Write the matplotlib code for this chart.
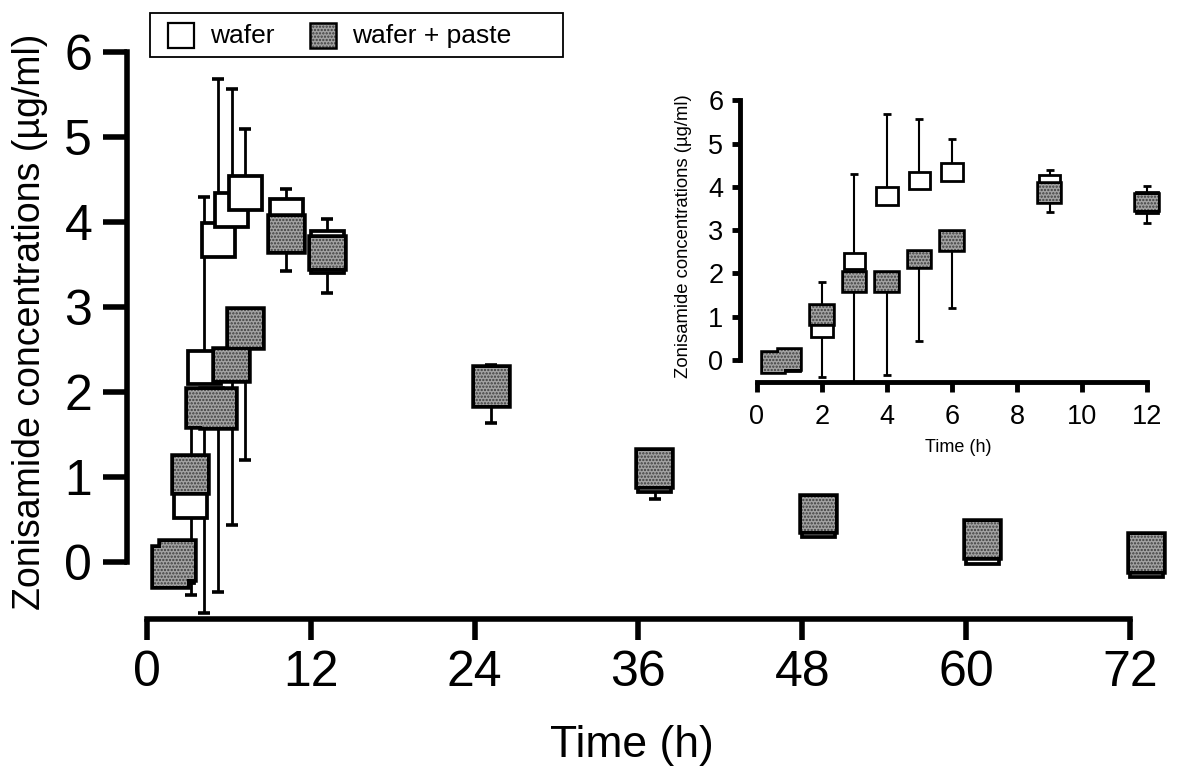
import numpy as np
import matplotlib
matplotlib.use("Agg")
import matplotlib.pyplot as plt
from matplotlib import font_manager
from matplotlib.patches import Rectangle

# ---------------- data (µg/ml) ----------------
times = [0.5, 1, 2, 3, 4, 5, 6, 9, 12, 24, 36, 48, 60, 72]

wafer_box_low  = [-0.22, -0.25, 0.52, 2.10, 3.59, 3.94, 4.14, 3.70, 3.40, 1.90, 0.82, 0.30, -0.02, -0.18]
wafer_box_high = [0.10, 0.10, 1.05, 2.48, 3.99, 4.34, 4.54, 4.27, 3.89, 2.20, 1.20, 0.60, 0.30, 0.10]
wafer_bar_top  = [None, None, 1.80, 4.29, 5.68, 5.57, 5.10, 4.39, 4.03, 2.32, None, None, None, None]

paste_box_low  = [-0.28, -0.20, 0.82, 1.60, 1.59, 2.14, 2.53, 3.66, 3.46, 1.85, 0.90, 0.37, 0.06, -0.10]
paste_box_high = [0.16, 0.24, 1.24, 2.02, 2.02, 2.49, 2.96, 4.06, 3.81, 2.28, 1.31, 0.76, 0.47, 0.32]
paste_bar_bottom = [None, None, -0.39, -0.60, -0.35, 0.44, 1.20, 3.42, 3.16, 1.64, 0.74, None, None, None]

series_labels = ["wafer", "wafer + paste"]
main_xticks = [0, 12, 24, 36, 48, 60, 72]
inset_xticks = [0, 2, 4, 6, 8, 10, 12]
yticks = [0, 1, 2, 3, 4, 5, 6]
ylabel = "Zonisamide concentrations (µg/ml)"
xlabel = "Time (h)"

# ---------------- style ----------------
names = {f.name for f in font_manager.fontManager.ttflist}
NARROW = "Liberation Sans Narrow" if "Liberation Sans Narrow" in names else None
plt.rcParams["font.family"] = ["Liberation Sans", "DejaVu Sans"]
plt.rcParams["hatch.linewidth"] = 1.1

GREY_FACE = "#a2a2a2"
SPECK = "#3c3c3c"
HATCH = "....."

W, H = 1195, 775
fig = plt.figure(figsize=(W / 100, H / 100), dpi=100)


def rect_px(left, top, right, bottom):
    return [left / W, 1 - bottom / H, (right - left) / W, (bottom - top) / H]


def draw_panel(ax, width, align, lw_box, lw_wh, cap, capw):
    t = np.array(times, float)
    xc = t + width / 2 if align == "edge" else t
    # whiskers (behind boxes)
    for i in range(len(t)):
        if wafer_bar_top[i] is not None:
            ax.vlines(xc[i], wafer_box_high[i], wafer_bar_top[i], color="k", lw=lw_wh, zorder=2)
            ax.plot([xc[i]], [wafer_bar_top[i]], marker="_", ms=cap, mew=capw, color="k", zorder=2)
        if paste_bar_bottom[i] is not None:
            ax.vlines(xc[i], paste_bar_bottom[i], paste_box_low[i], color="k", lw=lw_wh, zorder=2)
            ax.plot([xc[i]], [paste_bar_bottom[i]], marker="_", ms=cap, mew=capw, color="k", zorder=2)
    wl = np.array(wafer_box_low); wh = np.array(wafer_box_high)
    pl = np.array(paste_box_low); ph = np.array(paste_box_high)
    # wafer boxes
    for i in range(len(t)):
        ax.bar(t[i], wh[i] - wl[i], bottom=wl[i], width=width, align=align,
               facecolor="white", edgecolor="k", linewidth=lw_box, zorder=3)
    # wafer + paste boxes: outline first, then textured fill (merged look)
    ax.bar(t, ph - pl, bottom=pl, width=width, align=align, fill=False,
           edgecolor="k", linewidth=2 * lw_box, zorder=4)
    ax.bar(t, ph - pl, bottom=pl, width=width, align=align, facecolor=GREY_FACE,
           edgecolor=SPECK, hatch=HATCH, linewidth=0, zorder=4.1)


def style_axes(ax, xticks, xmax, lw, ylen, xlen, ypad, xpad, fs):
    for s in ("top", "right"):
        ax.spines[s].set_visible(False)
    for s in ("left", "bottom"):
        ax.spines[s].set_linewidth(lw)
    ax.spines["left"].set_bounds(0, 6)
    ax.spines["bottom"].set_bounds(0, xmax)
    ax.set_xticks(xticks)
    ax.set_yticks(yticks)
    ax.tick_params(axis="y", direction="out", length=ylen, width=lw, pad=ypad, labelsize=fs)
    ax.tick_params(axis="x", direction="out", length=xlen, width=lw, pad=xpad, labelsize=fs)
    ax.patch.set_alpha(0)


# ---------------- main axes ----------------
ax = fig.add_axes(rect_px(127, 14, 1171, 619))
MX0, MSC = 147, 13.65      # px of t=0, px per hour
MY0, MSY = 562, 85.0       # px of 0 µg/ml, px per unit
ax.set_xlim((127 - MX0) / MSC, (1171 - MX0) / MSC)
ax.set_ylim((MY0 - 619) / MSY, (MY0 - 14) / MSY)
draw_panel(ax, width=2.42, align="edge", lw_box=2.7, lw_wh=2.0, cap=9, capw=2.6)
style_axes(ax, main_xticks, 72, 4.0, 17, 15, 8, 7, 36)

# ---------------- inset axes ----------------
ai = fig.add_axes(rect_px(740, 92, 1163, 382))
IX0, ISC = 757, 32.5
IY0, ISY = 360, 43.3
ai.set_xlim((740 - IX0) / ISC, (1163 - IX0) / ISC)
ai.set_ylim((IY0 - 382) / ISY, (IY0 - 92) / ISY)
draw_panel(ai, width=0.65, align="center", lw_box=2.0, lw_wh=1.5, cap=5.5, capw=2.0)
style_axes(ai, inset_xticks, 12, 3.5, 6, 7, 6, 9, 19.5)

# ---------------- axis titles ----------------
if NARROW:
    fig.text(30 / W, 1 - 322 / H, ylabel, rotation=90, ha="center", va="center",
             fontsize=32, family=[NARROW, "Liberation Sans", "DejaVu Sans"])
    fig.text(632 / W, 1 - 745 / H, xlabel, ha="center", va="center",
             fontsize=37, family=[NARROW, "Liberation Sans", "DejaVu Sans"])
else:
    fig.text(30 / W, 1 - 322 / H, ylabel, rotation=90, ha="center", va="center", fontsize=27)
    fig.text(632 / W, 1 - 745 / H, xlabel, ha="center", va="center", fontsize=32)
fig.text(684 / W, 1 - 236 / H, ylabel, rotation=90, ha="center", va="center", fontsize=13.3)
fig.text(958 / W, 1 - 447 / H, xlabel, ha="center", va="center", fontsize=13)

# ---------------- legend (drawn in figure pixels) ----------------
def frect(l, t, r, b, **kw):
    p = Rectangle((l / W, 1 - b / H), (r - l) / W, (b - t) / H, transform=fig.transFigure, **kw)
    fig.add_artist(p)
    return p

frect(150, 13, 563, 57, facecolor="white", edgecolor="k", linewidth=1.3)
frect(168, 23, 194, 48, facecolor="white", edgecolor="k", linewidth=1.6)
frect(310, 23, 336, 48, facecolor=GREY_FACE, edgecolor=SPECK, hatch=HATCH, linewidth=0)
frect(310, 23, 336, 48, fill=False, edgecolor="k", linewidth=1.8)
fig.text(210 / W, 1 - 43 / H, series_labels[0], ha="left", va="baseline", fontsize=19)
fig.text(352 / W, 1 - 43 / H, series_labels[1], ha="left", va="baseline", fontsize=19)

fig.savefig("out.png", dpi=100)
